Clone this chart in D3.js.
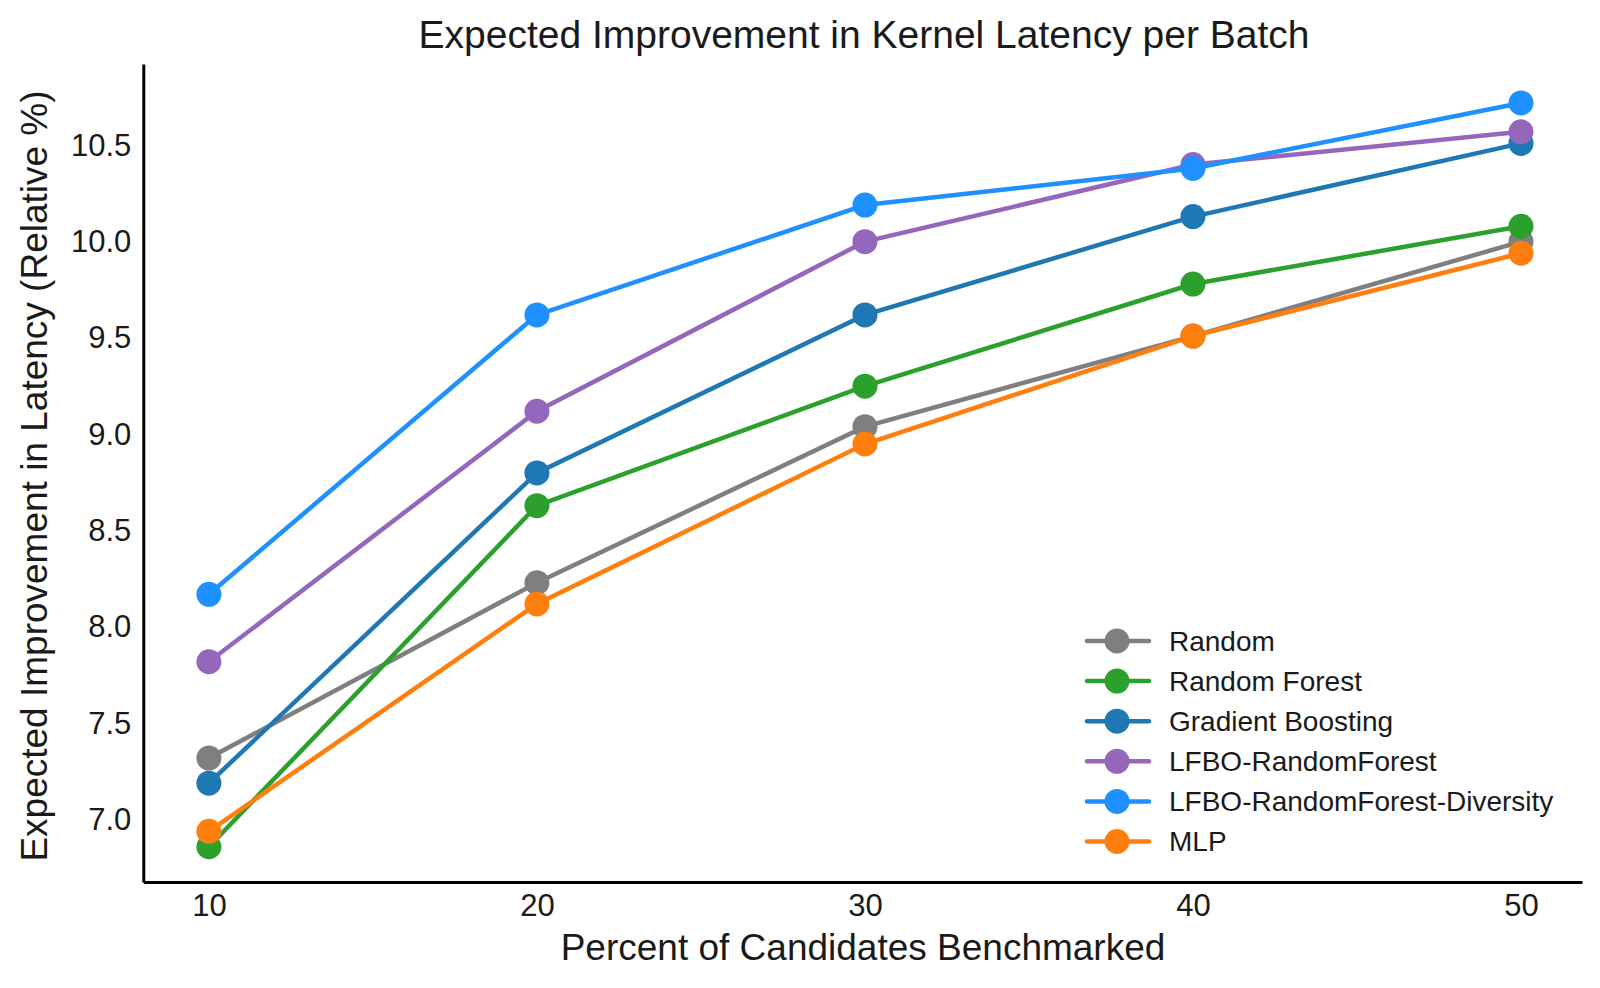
<!DOCTYPE html>
<html>
<head>
<meta charset="utf-8">
<script src="https://cdn.jsdelivr.net/npm/d3@7"></script>
<style>
  body { margin: 0; background: #fff; }
  text { font-family: "Liberation Sans", Arial, sans-serif; fill: #1a1a1a; }
</style>
</head>
<body>
<svg id="chart" width="1600" height="988"></svg>
<script>
// data
const percents = [10, 20, 30, 40, 50]
const seriesNames = ['Random', 'Random Forest', 'Gradient Boosting', 'LFBO-RandomForest', 'LFBO-RandomForest-Diversity', 'MLP']
const seriesColors = ['#7f7f7f', '#2ca02c', '#1f77b4', '#9467bd', '#1e90ff', '#ff7f0e']
const randomVals = [7.32, 8.23, 9.04, 9.51, 10.00]
const randomForestVals = [6.86, 8.63, 9.25, 9.78, 10.08]
const gradBoostVals = [7.19, 8.80, 9.62, 10.13, 10.51]
const lfboVals = [7.82, 9.12, 10.00, 10.40, 10.57]
const lfboDivVals = [8.17, 9.62, 10.19, 10.38, 10.72]
const mlpVals = [6.94, 8.12, 8.95, 9.51, 9.94]
const yTicks = [7.0, 7.5, 8.0, 8.5, 9.0, 9.5, 10.0, 10.5]

const allSeries = [randomVals, randomForestVals, gradBoostVals, lfboVals, lfboDivVals, mlpVals]

const plot = { left: 143.3, right: 1582, top: 64, bottom: 882 }
const svg = d3.select('#chart')

const x = d3.scaleLinear().domain([8, 51.86]).range([plot.left, plot.right])
const y = d3.scaleLinear().domain([6.677, 10.922]).range([plot.bottom, plot.top])

// axes: labels only, plus left and bottom spines
const xAxis = svg.append('g')
  .attr('transform', `translate(0,${plot.bottom})`)
  .call(d3.axisBottom(x).tickValues(percents).tickSize(0).tickPadding(12).tickFormat(d3.format('d')))
xAxis.select('.domain').attr('stroke', '#000').attr('stroke-width', 3)
xAxis.selectAll('text').style('font-size', '31px').attr('fill', '#1a1a1a')

const yAxis = svg.append('g')
  .attr('transform', `translate(${plot.left},0)`)
  .call(d3.axisLeft(y).tickValues(yTicks).tickSize(0).tickPadding(12).tickFormat(d3.format('.1f')))
yAxis.select('.domain').attr('stroke', '#000').attr('stroke-width', 3)
yAxis.selectAll('text').style('font-size', '31px').attr('fill', '#1a1a1a')

// lines and markers
const line = d3.line().x((d, i) => x(percents[i])).y(d => y(d))

allSeries.forEach((vals, s) => {
  const g = svg.append('g')
  g.append('path')
    .datum(vals)
    .attr('d', line)
    .attr('fill', 'none')
    .attr('stroke', seriesColors[s])
    .attr('stroke-width', 4.5)
  g.selectAll('circle')
    .data(vals)
    .join('circle')
    .attr('cx', (d, i) => x(percents[i]))
    .attr('cy', d => y(d))
    .attr('r', 12.5)
    .attr('fill', seriesColors[s])
})

// titles
svg.append('text')
  .attr('x', 864).attr('y', 48)
  .attr('text-anchor', 'middle')
  .style('font-size', '39px')
  .text('Expected Improvement in Kernel Latency per Batch')

svg.append('text')
  .attr('x', 863).attr('y', 960)
  .attr('text-anchor', 'middle')
  .style('font-size', '37px')
  .text('Percent of Candidates Benchmarked')

svg.append('text')
  .attr('transform', 'translate(47,476) rotate(-90)')
  .attr('text-anchor', 'middle')
  .style('font-size', '37px')
  .text('Expected Improvement in Latency (Relative %)')

// legend
const legend = svg.append('g').attr('transform', 'translate(1085,641)')
seriesNames.forEach((name, i) => {
  const row = legend.append('g').attr('transform', `translate(0,${i * 40.1})`)
  row.append('line')
    .attr('x1', 2).attr('x2', 64)
    .attr('stroke', seriesColors[i])
    .attr('stroke-width', 4.5)
    .attr('stroke-linecap', 'round')
  row.append('circle').attr('cx', 32).attr('r', 12.5).attr('fill', seriesColors[i])
  row.append('text')
    .attr('x', 84).attr('dy', '0.35em')
    .style('font-size', '28px')
    .text(name)
})
</script>
</body>
</html>
